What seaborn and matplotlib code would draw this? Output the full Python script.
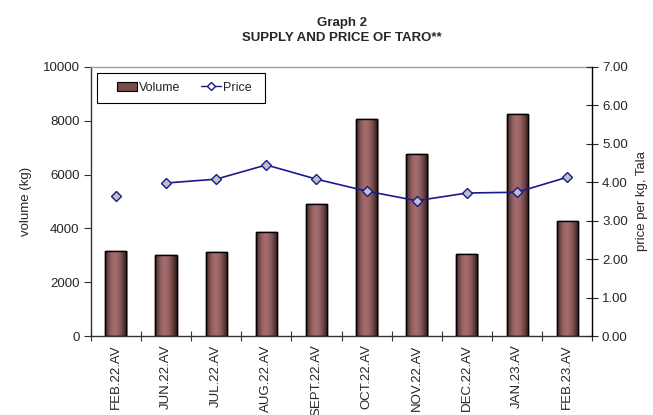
import numpy as np
import pandas as pd
import matplotlib
matplotlib.use("Agg")
import matplotlib.pyplot as plt
from matplotlib.patches import Rectangle
from matplotlib.lines import Line2D
import seaborn as sns

months = ['FEB.22.AV', 'JUN.22.AV', 'JUL.22.AV', 'AUG.22.AV', 'SEPT.22.AV',
          'OCT.22.AV', 'NOV.22.AV', 'DEC.22.AV', 'JAN.23.AV', 'FEB.23.AV']
volume = [3150, 3020, 3120, 3880, 4900, 8070, 6750, 3050, 8230, 4270]
price = [3.63, 3.98, 4.08, 4.45, 4.08, 3.77, 3.52, 3.72, 3.74, 4.13]

sns.set_style("white")
plt.rcParams['font.family'] = ['Liberation Sans', 'DejaVu Sans']

df = pd.DataFrame({'month': months, 'volume': volume, 'price': price})

fig = plt.figure(figsize=(6.53, 4.15), dpi=100)
ax = fig.add_axes([0.139, 0.19, 0.768, 0.649])

sns.barplot(data=df, x='month', y='volume', ax=ax, width=0.42,
            color='#996666', edgecolor='black', linewidth=1.0, zorder=2)

# cylinder-like shading on each bar, plus a light shadow
grad = np.linspace(0, 1, 64)
shade = np.clip(np.sin(np.pi * (grad ** 0.85)), 0, 1)
dark = np.array([0.18, 0.10, 0.10])
light = np.array([0.64, 0.42, 0.42])
img = (dark[None, :] + (light - dark)[None, :] * shade[:, None])[None, :, :]
for p in list(ax.patches):
    x0, y0 = p.get_x(), p.get_y()
    w, h = p.get_width(), p.get_height()
    ax.add_patch(Rectangle((x0 + 0.03, y0), w, h, facecolor='#b0b0b0',
                           edgecolor='none', zorder=1))
    im = ax.imshow(img, extent=[x0, x0 + w, y0, y0 + h], aspect='auto',
                   zorder=2.5, interpolation='bilinear')
    im.set_clip_path(p)
    ax.add_patch(Rectangle((x0, y0), w, h, facecolor='none',
                           edgecolor='black', linewidth=1.0, zorder=3))

ax.set_xlim(-0.5, len(months) - 0.5)
ax.set_ylim(0, 10000)
ax.set_yticks(range(0, 10001, 2000))
ax.set_xticks(np.arange(len(months)))
ax.set_xticklabels(months, rotation=90, fontsize=9.5)
ax.tick_params(axis='x', length=0, pad=6)
ax.set_xticks(np.arange(len(months) + 1) - 0.5, minor=True)
ax.tick_params(axis='x', which='minor', direction='inout', length=7,
               width=0.8, color='#333333', bottom=True)
ax.tick_params(axis='y', direction='out', length=5, width=0.8,
               color='#333333', labelsize=9.5, left=True, pad=3)
ax.set_xlabel('')
ax.set_ylabel('volume (kg)', fontsize=9.5, labelpad=8)

for s in ['left', 'bottom']:
    ax.spines[s].set_color('#333333')
    ax.spines[s].set_linewidth(1.0)
ax.spines['top'].set_color('#a0a0a0')
ax.spines['top'].set_linewidth(1.0)
ax.spines['right'].set_visible(False)

ax2 = ax.twinx()
pos = np.arange(len(months))
sns.lineplot(x=pos[1:], y=price[1:], ax=ax2, color='#1a1a8c', linewidth=1.2,
             marker='D', markersize=5.5, markerfacecolor='#c0c0c0',
             markeredgecolor='#1a1a8c', markeredgewidth=1.0, zorder=4)
ax2.plot(pos[:1], price[:1], linestyle='none', marker='D', markersize=5.5,
         markerfacecolor='#c0c0c0', markeredgecolor='#1a1a8c',
         markeredgewidth=1.0, zorder=4)
ax2.set_ylim(0, 7)
ax2.set_yticks(range(0, 8))
ax2.set_yticklabels([f'{v:.2f}' for v in range(0, 8)])
ax2.tick_params(axis='y', direction='inout', length=8, width=0.8,
                labelsize=9.5, right=True, pad=3)
ax2.set_ylabel('price per kg, Tala', fontsize=9.5, labelpad=6)
ax2.spines['right'].set_color('black')
ax2.spines['right'].set_linewidth(1.0)
for s in ['left', 'bottom', 'top']:
    ax2.spines[s].set_visible(False)

# legend box drawn separately so its padding matches the original
ax2.add_patch(Rectangle((0.012, 0.866), 0.335, 0.112, transform=ax2.transAxes,
                        facecolor='white', edgecolor='black', linewidth=0.8,
                        zorder=5, clip_on=False))
handles = [Rectangle((0, 0), 1, 1, facecolor='#7a4a4a', edgecolor='black', linewidth=0.8),
           Line2D([0], [0], color='#1a1a8c', linewidth=1.0, marker='D', markersize=4,
                  markerfacecolor='white', markeredgecolor='#1a1a8c')]
leg = ax2.legend(handles, ['Volume', 'Price'], loc='center left', ncol=2,
                 bbox_to_anchor=(0.052, 0.922), borderaxespad=0, borderpad=0,
                 frameon=False, fontsize=9, handlelength=1.6, handletextpad=0.2,
                 columnspacing=1.6)
leg.set_zorder(6)

fig.text(0.523, 0.945, 'Graph 2', ha='center', va='center', fontsize=9.5,
         fontweight='bold')
fig.text(0.523, 0.909, 'SUPPLY AND PRICE OF TARO**', ha='center', va='center',
         fontsize=9.5, fontweight='bold')

fig.savefig('out.png', dpi=100)
